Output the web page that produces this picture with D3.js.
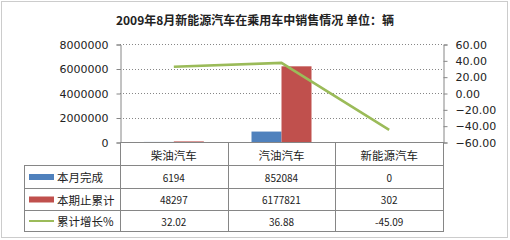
<!DOCTYPE html>
<html>
<head>
<meta charset="utf-8">
<script src="https://cdn.jsdelivr.net/npm/d3@7"></script>
<style>
  body { margin: 0; background: #fff; }
  svg { display: block; }
</style>
</head>
<body>
<script>
// chart values
var categories = ["柴油汽车", "汽油汽车", "新能源汽车"];
var monthly = [6194, 852084, 0];          // 本月完成
var cumulative = [48297, 6177821, 302];   // 本期止累计
var growth = [32.02, 36.88, -45.09];      // 累计增长%
var seriesNames = ["本月完成", "本期止累计", "累计增长%"];
var leftTicks = [0, 2000000, 4000000, 6000000, 8000000];
var rightTicks = [-60, -40, -20, 0, 20, 40, 60];

var width = 510, height = 240;
var plotLeft = 120, plotRight = 443, plotTop = 44, plotBottom = 142;
var tableLeft = 24;
var rowLines = [165, 188, 210, 231];

var blue = "#4f81bd", red = "#c0504d", green = "#9bbb59";
var grey = "#868686";
var numFont = "DejaVu Sans";
var cjkFont = "Noto Sans CJK SC";

var svg = d3.select("body").append("svg")
    .attr("width", width)
    .attr("height", height);

// outer dotted frame
svg.append("rect")
    .attr("x", 1.5).attr("y", 1.5)
    .attr("width", 506).attr("height", 236)
    .attr("fill", "none")
    .attr("stroke", "#999")
    .attr("stroke-dasharray", "1,1");

// title
svg.append("text")
    .attr("x", 255).attr("y", 19)
    .attr("text-anchor", "middle")
    .attr("dominant-baseline", "central")
    .attr("font-family", cjkFont)
    .attr("font-weight", "bold")
    .attr("font-size", 12)
    .attr("fill", "#222")
    .text("2009年8月新能源汽车在乘用车中销售情况  单位：辆");

var x = d3.scaleBand().domain(categories).range([plotLeft, plotRight]).paddingInner(0).paddingOuter(0);
var bw = x.bandwidth();
var xSub = d3.scaleBand().domain([0, 1]).range([bw / 2 - 30, bw / 2 + 30]);
var yL = d3.scaleLinear().domain([0, 8000000]).range([plotBottom, plotTop]);
var yR = d3.scaleLinear().domain([-60, 60]).range([plotBottom, plotTop]);

// gridlines
svg.append("g").selectAll("line")
  .data(leftTicks.filter(function(d) { return d > 0; }))
  .enter().append("line")
    .attr("x1", plotLeft).attr("x2", plotRight)
    .attr("y1", function(d) { return Math.round(yL(d)) + 0.5; })
    .attr("y2", function(d) { return Math.round(yL(d)) + 0.5; })
    .attr("stroke", grey)
    .attr("stroke-dasharray", "1,2");

// left axis
var gL = svg.append("g")
    .attr("transform", "translate(" + (plotLeft + 0.5) + ",0.5)")
    .call(d3.axisLeft(yL).tickValues(leftTicks).tickSize(4).tickPadding(8).tickFormat(d3.format("d")));
gL.selectAll("path, line").attr("stroke", grey);
gL.selectAll("text").attr("font-family", numFont).attr("font-size", 11).attr("fill", "#222");

// right axis
var gR = svg.append("g")
    .attr("transform", "translate(" + (plotRight + 0.5) + ",0.5)")
    .call(d3.axisRight(yR).tickValues(rightTicks).tickSize(4).tickPadding(8).tickFormat(d3.format(".2f")));
gR.selectAll("path, line").attr("stroke", grey);
gR.selectAll("text").attr("font-family", numFont).attr("font-size", 11).attr("fill", "#222");

// bars
var barSeries = [monthly, cumulative];
var barColors = [blue, red];
barSeries.forEach(function(vals, si) {
  svg.append("g").selectAll("rect")
    .data(vals)
    .enter().append("rect")
      .attr("x", function(d, i) { return x(categories[i]) + xSub(si); })
      .attr("width", xSub.bandwidth())
      .attr("y", function(d) { return yL(d); })
      .attr("height", function(d) { return plotBottom - yL(d); })
      .attr("fill", barColors[si]);
});

// bottom axis line (top of table)
svg.append("line")
    .attr("x1", plotLeft).attr("x2", plotRight + 1)
    .attr("y1", plotBottom + 0.5).attr("y2", plotBottom + 0.5)
    .attr("stroke", grey);

// growth line
var line = d3.line()
    .x(function(d, i) { return x(categories[i]) + bw / 2; })
    .y(function(d) { return yR(d); });
svg.append("path")
    .datum(growth)
    .attr("d", line)
    .attr("fill", "none")
    .attr("stroke", green)
    .attr("stroke-width", 2.5);

// data table
var table = svg.append("g");
rowLines.forEach(function(y) {
  table.append("line")
    .attr("x1", tableLeft).attr("x2", plotRight + 1)
    .attr("y1", y + 0.5).attr("y2", y + 0.5)
    .attr("stroke", grey);
});
table.append("line")
    .attr("x1", tableLeft + 0.5).attr("x2", tableLeft + 0.5)
    .attr("y1", rowLines[0]).attr("y2", rowLines[3] + 1)
    .attr("stroke", grey);
[plotLeft, x(categories[1]), x(categories[2]), plotRight].forEach(function(xv) {
  table.append("line")
    .attr("x1", Math.round(xv) + 0.5).attr("x2", Math.round(xv) + 0.5)
    .attr("y1", plotBottom).attr("y2", rowLines[3] + 1)
    .attr("stroke", grey);
});

// category header
table.selectAll("text.cat")
  .data(categories)
  .enter().append("text")
    .attr("class", "cat")
    .attr("x", function(d) { return x(d) + bw / 2; })
    .attr("y", (plotBottom + rowLines[0]) / 2 + 1)
    .attr("text-anchor", "middle")
    .attr("dominant-baseline", "central")
    .attr("font-family", cjkFont)
    .attr("font-size", 11.5)
    .attr("fill", "#222")
    .text(function(d) { return d; });

// rows
var rows = [
  { vals: monthly, fmt: function(d) { return d; }, color: blue, type: "rect" },
  { vals: cumulative, fmt: function(d) { return d; }, color: red, type: "rect" },
  { vals: growth, fmt: function(d) { return d.toFixed(2); }, color: green, type: "line" }
];
rows.forEach(function(r, ri) {
  var cy = (rowLines[ri] + rowLines[ri + 1]) / 2 + 0.5;
  if (r.type === "rect") {
    table.append("rect")
      .attr("x", 29).attr("y", cy - 3)
      .attr("width", 25).attr("height", 6)
      .attr("fill", r.color);
  } else {
    table.append("line")
      .attr("x1", 29).attr("x2", 54)
      .attr("y1", cy).attr("y2", cy)
      .attr("stroke", r.color)
      .attr("stroke-width", 2);
  }
  table.append("text")
    .attr("x", 57).attr("y", cy)
    .attr("dominant-baseline", "central")
    .attr("font-family", cjkFont)
    .attr("font-size", 11.5)
    .attr("fill", "#222")
    .text(seriesNames[ri]);
  table.selectAll("text.v" + ri)
    .data(r.vals)
    .enter().append("text")
      .attr("class", "v" + ri)
      .attr("x", function(d, i) { return x(categories[i]) + bw / 2; })
      .attr("y", cy)
      .attr("text-anchor", "middle")
      .attr("dominant-baseline", "central")
      .attr("font-family", cjkFont)
      .attr("font-size", 10)
      .attr("fill", "#222")
      .text(r.fmt);
});
</script>
</body>
</html>
